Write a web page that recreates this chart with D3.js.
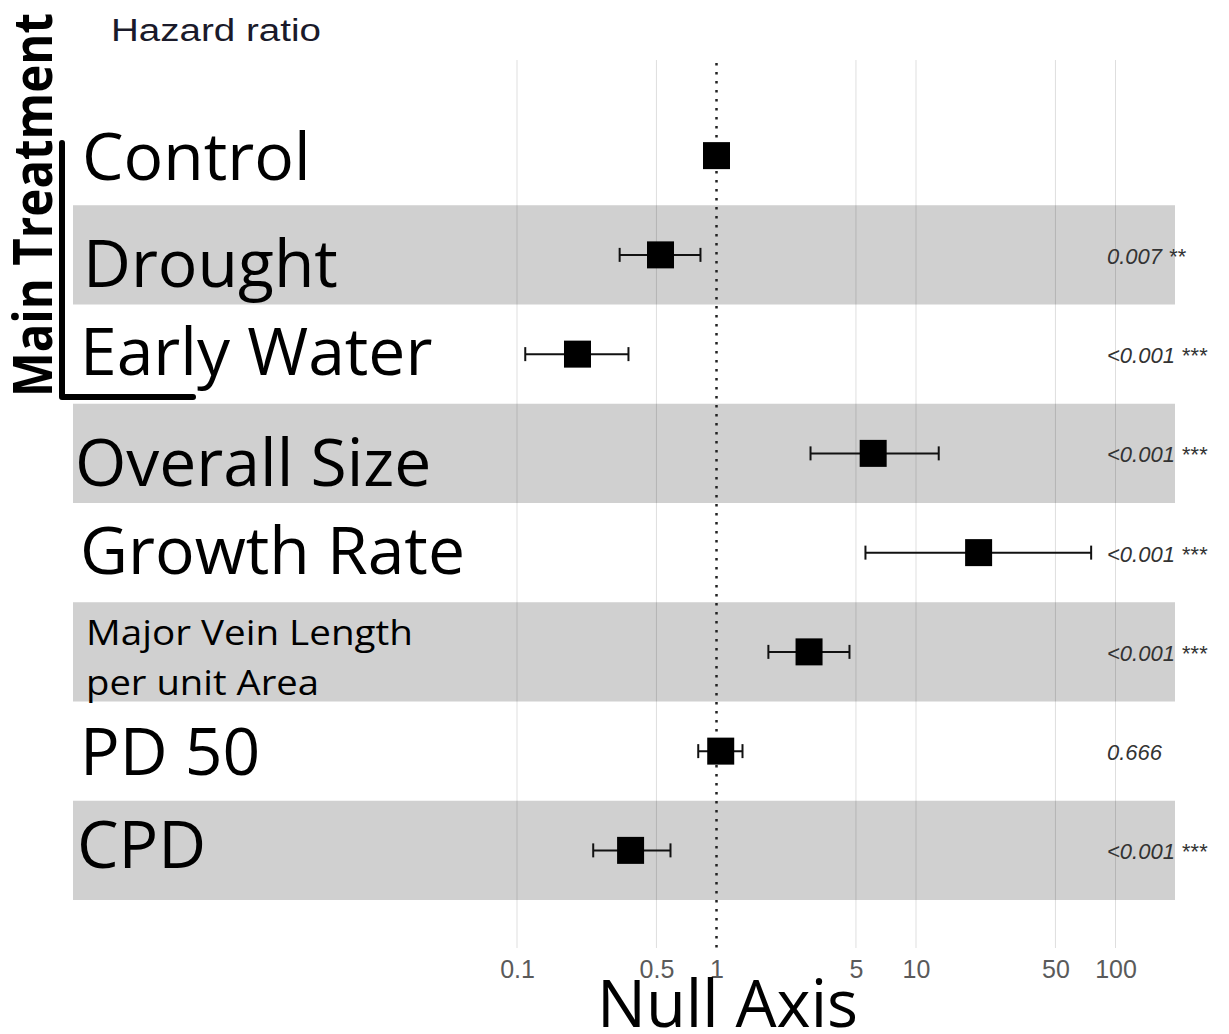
<!DOCTYPE html>
<html>
<head>
<meta charset="utf-8">
<script src="https://cdn.jsdelivr.net/npm/d3@7"></script>
<style>
  html, body { margin: 0; padding: 0; background: #ffffff; }
  svg { display: block; }
</style>
</head>
<body>
<script>
// ---------------- data ----------------
const categories = ["Control", "Drought", "Early Water", "Overall Size", "Growth Rate",
                    "Major Vein Length per unit Area", "PD 50", "CPD"];
const labelLines = [["Control"], ["Drought"], ["Early Water"], ["Overall Size"], ["Growth Rate"],
                    ["Major Vein Length", "per unit Area"], ["PD 50"], ["CPD"]];
const hazardRatio = [1, 0.524, 0.201, 6.10, 20.6, 2.91, 1.05, 0.371];
const ciLower     = [null, 0.327, 0.110, 2.96, 5.58, 1.82, 0.81, 0.241];
const ciUpper     = [null, 0.831, 0.362, 13.0, 75.5, 4.64, 1.35, 0.588];
const pLabels     = ["", "0.007 **", "<0.001 ***", "<0.001 ***", "<0.001 ***", "<0.001 ***", "0.666", "<0.001 ***"];
const tickValues  = [0.1, 0.5, 1, 5, 10, 50, 100];
const tickLabels  = ["0.1", "0.5", "1", "5", "10", "50", "100"];

// ---------------- layout ----------------
const W = 1229, H = 1034;
const svg = d3.select("body").append("svg").attr("width", W).attr("height", H);

const x = d3.scaleLog().domain([0.1, 100]).range([517, 1115.5]);
const y = d3.scaleBand().domain(categories).range([106, 900]).padding(0);
const cy = c => y(c) + y.bandwidth() / 2;

const rows = categories.map((c, i) => ({
  cat: c, lines: labelLines[i], hr: hazardRatio[i], lo: ciLower[i], hi: ciUpper[i], p: pLabels[i], i
}));

// shaded bands
svg.append("g").selectAll("rect")
  .data(rows.filter(d => d.i % 2 === 1))
  .join("rect")
  .attr("x", 73).attr("width", 1175 - 73)
  .attr("y", d => y(d.cat)).attr("height", y.bandwidth())
  .attr("fill", "#d0d0d0");

// grid lines
svg.append("g").selectAll("line")
  .data(tickValues.filter(t => t !== 1))
  .join("line")
  .attr("x1", d => x(d)).attr("x2", d => x(d))
  .attr("y1", 60).attr("y2", 948)
  .attr("stroke", "rgba(0,0,0,0.13)").attr("stroke-width", 1);

// null line
svg.append("line")
  .attr("x1", x(1)).attr("x2", x(1)).attr("y1", 63).attr("y2", 950)
  .attr("stroke", "#222").attr("stroke-width", 2.5)
  .attr("stroke-dasharray", "2.5,6.5");

// axis
const axis = d3.axisBottom(x).tickValues(tickValues)
  .tickFormat((d, i) => tickLabels[i]).tickSize(0).tickPadding(12);
const ag = svg.append("g").attr("transform", "translate(0,948)").call(axis);
ag.select(".domain").remove();
ag.selectAll("text").attr("font-family", "'Liberation Sans', Arial, sans-serif")
  .attr("font-size", 25).attr("fill", "#5a5a5a");

// error bars
const eb = svg.append("g").selectAll("g").data(rows.filter(d => d.lo != null)).join("g");
eb.append("line")
  .attr("x1", d => x(d.lo)).attr("x2", d => x(d.hi))
  .attr("y1", d => cy(d.cat)).attr("y2", d => cy(d.cat))
  .attr("stroke", "#111").attr("stroke-width", 2);
eb.append("line")
  .attr("x1", d => x(d.lo)).attr("x2", d => x(d.lo))
  .attr("y1", d => cy(d.cat) - 7).attr("y2", d => cy(d.cat) + 7)
  .attr("stroke", "#111").attr("stroke-width", 2);
eb.append("line")
  .attr("x1", d => x(d.hi)).attr("x2", d => x(d.hi))
  .attr("y1", d => cy(d.cat) - 7).attr("y2", d => cy(d.cat) + 7)
  .attr("stroke", "#111").attr("stroke-width", 2);

// point estimates
const sq = 27;
svg.append("g").selectAll("rect").data(rows).join("rect")
  .attr("x", d => x(d.hr) - sq / 2).attr("y", d => cy(d.cat) - sq / 2)
  .attr("width", sq).attr("height", sq).attr("fill", "#000");

// p-values
svg.append("g").selectAll("text").data(rows.filter(d => d.p)).join("text")
  .attr("x", 1107).attr("y", d => cy(d.cat) + 9)
  .attr("font-family", "'Liberation Sans', Arial, sans-serif")
  .attr("font-style", "italic").attr("font-size", 22).attr("fill", "#333")
  .text(d => d.p);

// row labels (individual nudges reproduce the hand-placed labels)
const nudge = {
  "Control": [82, 24], "Drought": [83, 32], "Early Water": [80, 21], "Overall Size": [75, 33],
  "Growth Rate": [80, 21], "PD 50": [80, 24], "CPD": [77, 18]
};
const lab = svg.append("g").attr("font-family", "'Open Sans', 'Noto Sans', sans-serif").attr("fill", "#000");
rows.forEach(d => {
  if (d.lines.length === 1) {
    const n = nudge[d.cat];
    lab.append("text").attr("x", n[0]).attr("y", cy(d.cat) + n[1])
      .attr("font-size", 66).text(d.lines[0]);
  } else {
    const lens = [327, 233];
    d.lines.forEach((t, k) => {
      lab.append("text").attr("x", 86).attr("y", cy(d.cat) - 7 + k * 50)
        .attr("font-size", 35).attr("textLength", lens[k]).attr("lengthAdjust", "spacingAndGlyphs")
        .text(t);
    });
  }
});

// "Hazard ratio" header
svg.append("text").attr("x", 111).attr("y", 41)
  .attr("font-family", "'Liberation Sans', Arial, sans-serif")
  .attr("font-size", 31).attr("fill", "#1a1a2a")
  .attr("textLength", 210).attr("lengthAdjust", "spacingAndGlyphs")
  .text("Hazard ratio");

// group bracket + title
svg.append("path").attr("d", "M62,143 L62,397 L193,397")
  .attr("fill", "none").attr("stroke", "#000").attr("stroke-width", 6)
  .attr("stroke-linecap", "round").attr("stroke-linejoin", "round");
svg.append("text").attr("transform", "translate(52,397) rotate(-90)")
  .attr("font-family", "'Open Sans', 'Noto Sans', sans-serif").attr("font-weight", "bold")
  .attr("font-size", 54).attr("fill", "#000")
  .attr("textLength", 384).attr("lengthAdjust", "spacingAndGlyphs")
  .text("Main Treatment");

// x-axis title
svg.append("text").attr("x", 597).attr("y", 1027)
  .attr("font-family", "'Open Sans', 'Noto Sans', sans-serif")
  .attr("font-size", 65).attr("fill", "#000")
  .text("Null Axis");
</script>
</body>
</html>
